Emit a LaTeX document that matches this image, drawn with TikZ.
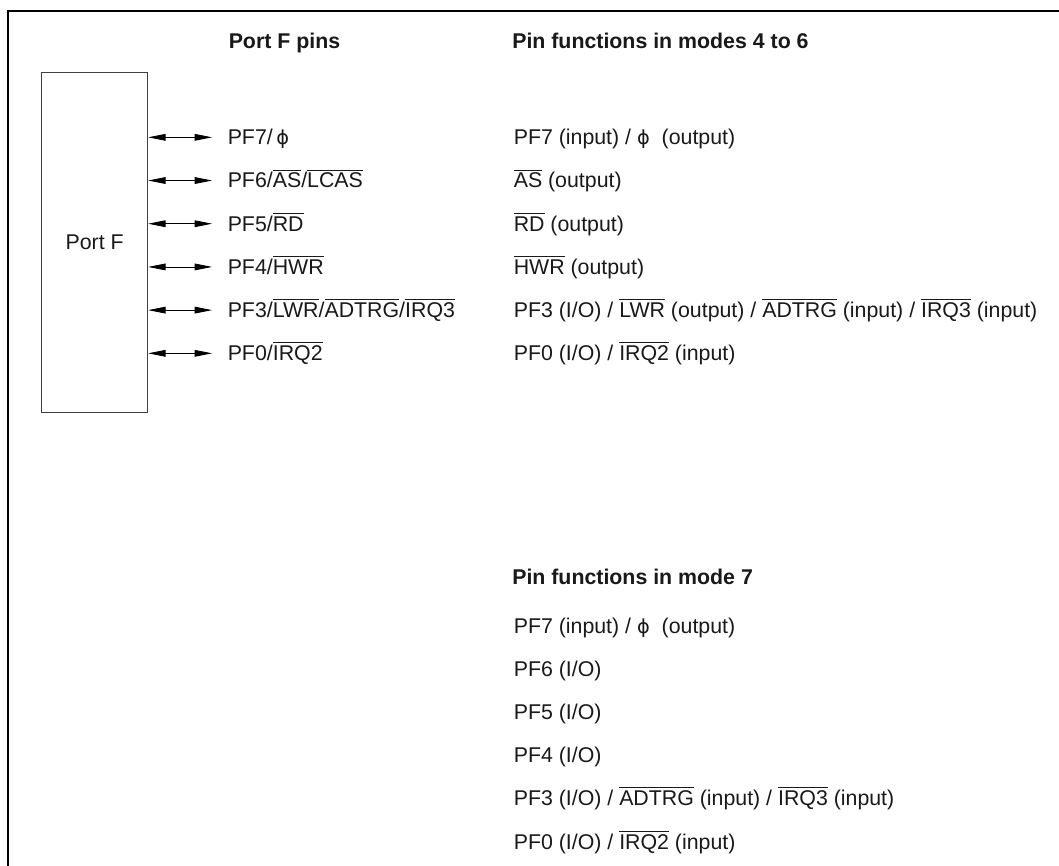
\documentclass[tikz,border=0pt]{standalone}
\usepackage{fontspec}
\setmainfont{Liberation Sans}
\newfontfamily\phifont{DejaVu Sans}
\usepackage{tikz}
\usetikzlibrary{arrows.meta,positioning}
\newcommand{\ovl}[1]{\leavevmode\vbox{\hrule height 0.6pt\kern 2pt\hbox{#1}}}
\newcommand{\clk}{{\phifont\fontsize{14.5}{19}\selectfont ϕ}}

\begin{document}
\begin{tikzpicture}[
    x=0.75pt, y=-0.75pt,
    every node/.style={font=\fontsize{16}{19}\selectfont, text=black!90, inner sep=0pt},
    head/.style={anchor=base west, font=\fontsize{16}{19}\selectfont\bfseries},
    pin/.style={anchor=base west},
    rowbelow/.style={below=32.4pt of #1.base west, anchor=base west},
    portbox/.style={rectangle, draw=black!75, line width=0.75pt, minimum width=79.5pt, minimum height=255pt},
    biarrow/.style={{Triangle[length=13pt,width=5pt]}-{Triangle[length=13pt,width=5pt]}, line width=0.6pt}
]
\useasboundingbox (0,0) rectangle (1059,866);
% frame
\draw[line width=1.5pt] (7.5,866) -- (7.5,10.7) -- (1059,10.7);

\node[portbox] (portf) at (94.7,242.7) {Port F};

% pins
\node[head] (pinhead) at (228.5,48.5) {Port F pins};
\node[pin] (pf7) at (227.5,144.8) {PF7/\,\clk};
\node[rowbelow=pf7] (pf6) {PF6/\ovl{AS}/\ovl{LCAS}};
\node[rowbelow=pf6] (pf5) {PF5/\ovl{RD}};
\node[rowbelow=pf5] (pf4) {PF4/\ovl{HWR}};
\node[rowbelow=pf4] (pf3) {PF3/\ovl{LWR}/\ovl{ADTRG}/\ovl{IRQ3}};
\node[rowbelow=pf3] (pf0) {PF0/\ovl{IRQ2}};

\coordinate (a7) at ([xshift=-11.6pt,yshift=5.6pt]pf7.base west);
\coordinate (a6) at ([xshift=-11.6pt,yshift=5.6pt]pf6.base west);
\coordinate (a5) at ([xshift=-11.6pt,yshift=5.6pt]pf5.base west);
\coordinate (a4) at ([xshift=-11.6pt,yshift=5.6pt]pf4.base west);
\coordinate (a3) at ([xshift=-11.6pt,yshift=5.6pt]pf3.base west);
\coordinate (a0) at ([xshift=-11.6pt,yshift=5.6pt]pf0.base west);
\draw[biarrow] (portf.east |- a7) -- (a7);
\draw[biarrow] (portf.east |- a6) -- (a6);
\draw[biarrow] (portf.east |- a5) -- (a5);
\draw[biarrow] (portf.east |- a4) -- (a4);
\draw[biarrow] (portf.east |- a3) -- (a3);
\draw[biarrow] (portf.east |- a0) -- (a0);

% modes 4 to 6
\node[head] (fnhead) at (512,48.5) {Pin functions in modes 4 to 6};
\node[pin] (fn7) at (513.5,144.8) {PF7 (input) / \clk\ \ (output)};
\node[rowbelow=fn7] (fn6) {\ovl{AS} (output)};
\node[rowbelow=fn6] (fn5) {\ovl{RD} (output)};
\node[rowbelow=fn5] (fn4) {\ovl{HWR} (output)};
\node[rowbelow=fn4] (fn3) {PF3 (I/O) / \ovl{LWR} (output) / \ovl{ADTRG} (input) / \ovl{IRQ3} (input)};
\node[rowbelow=fn3] (fn0) {PF0 (I/O) / \ovl{IRQ2} (input)};

% mode 7
\node[head] (sevhead) at (512,584) {Pin functions in mode 7};
\node[pin] (sev7) at (513.5,633) {PF7 (input) / \clk\ \ (output)};
\node[rowbelow=sev7] (sev6) {PF6 (I/O)};
\node[rowbelow=sev6] (sev5) {PF5 (I/O)};
\node[rowbelow=sev5] (sev4) {PF4 (I/O)};
\node[rowbelow=sev4] (sev3) {PF3 (I/O) / \ovl{ADTRG} (input) / \ovl{IRQ3} (input)};
\node[rowbelow=sev3] (sev0) {PF0 (I/O) / \ovl{IRQ2} (input)};
\end{tikzpicture}
\end{document}
